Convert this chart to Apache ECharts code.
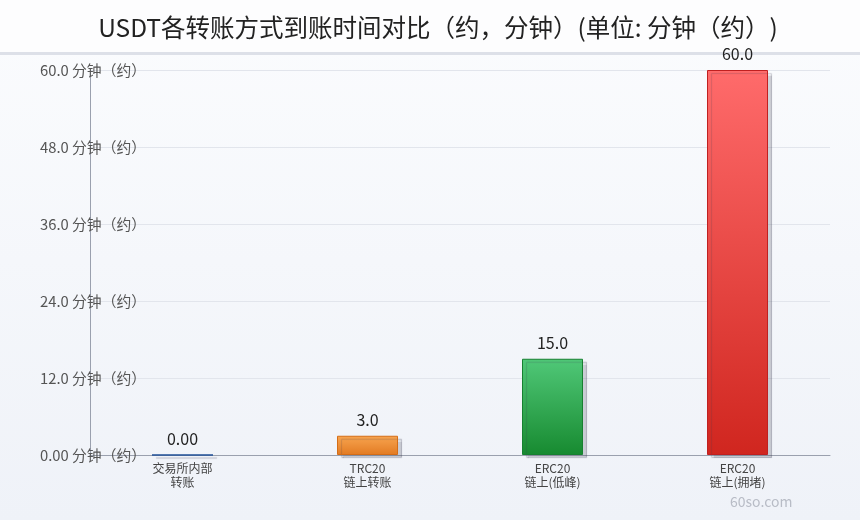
<!DOCTYPE html>
<html>
<head>
<meta charset="utf-8">
<script src="https://cdn.jsdelivr.net/npm/echarts@6/dist/echarts.min.js"></script>
<style>
html,body{margin:0;padding:0;background:#fff;}
#c{width:860px;height:520px;}
</style>
</head>
<body>
<div id="c"></div>
<script>
var titleText = 'USDT各转账方式到账时间对比（约，分钟）(单位: 分钟（约）)';
var categories = ['交易所内部\n转账', 'TRC20\n链上转账', 'ERC20\n链上(低峰)', 'ERC20\n链上(拥堵)'];
var values = [0, 3, 15, 60];
var valueLabels = ['0.00', '3.0', '15.0', '60.0'];
var yTickLabels = {0: '0.00', 12: '12.0', 24: '24.0', 36: '36.0', 48: '48.0', 60: '60.0'};
var unitSuffix = ' 分钟（约）';

var colorStops = [
  ['#3b6cb8', '#1f4f96', '#1f4f96'],
  ['#f8a550', '#e27a22', '#d46d17'],
  ['#50c878', '#178a30', '#178030'],
  ['#ff6b6b', '#d0261f', '#c02020']
];

var font = '"Noto Sans CJK SC", "Noto Sans", sans-serif';
var chart = echarts.init(document.getElementById('c'), null, {renderer: 'canvas'});

var data = values.map(function (v, i) {
  return {
    value: v,
    itemStyle: {
      color: new echarts.graphic.LinearGradient(0, 0, 0, 1, [
        {offset: 0, color: colorStops[i][0]},
        {offset: 1, color: colorStops[i][1]}
      ]),
      borderColor: colorStops[i][2],
      borderWidth: 1
    }
  };
});

chart.setOption({
  backgroundColor: new echarts.graphic.LinearGradient(0, 0, 0, 1, [
    {offset: 0, color: '#fbfcfe'},
    {offset: 1, color: '#eff2f8'}
  ]),
  animation: false,
  graphic: [
    {type: 'rect', left: 0, top: 0, shape: {width: 860, height: 52}, style: {fill: '#fdfdfe'}, z: -1},
    {type: 'rect', left: 0, top: 52, shape: {width: 860, height: 3}, style: {fill: '#dde0e8'}, z: -1},
    {type: 'text', x: 438, y: 28, style: {text: titleText, font: '24.5px ' + font, fill: '#222', align: 'center', verticalAlign: 'middle'}},
    {type: 'text', left: 730, top: 495, style: {text: '60so.com', font: '14px ' + font, fill: '#b8bcc6'}}
  ],
  grid: {left: 90, right: 30, top: 70, bottom: 65},
  xAxis: {
    type: 'category',
    data: categories,
    axisLine: {lineStyle: {color: '#9aa0ae'}},
    axisTick: {show: false},
    axisLabel: {color: '#444', fontSize: 12, lineHeight: 14, margin: 6, fontFamily: font}
  },
  yAxis: {
    type: 'value',
    min: 0, max: 60, interval: 12,
    axisLine: {show: true, lineStyle: {color: '#9aa0ae'}},
    axisTick: {show: false},
    splitLine: {lineStyle: {color: '#e2e5ec'}},
    axisLabel: {
      align: 'left', margin: 50, color: '#555', fontSize: 14.8, fontFamily: font,
      formatter: function (v) { return yTickLabels[v] + unitSuffix; }
    }
  },
  series: [{
    type: 'bar',
    data: data,
    barWidth: 61,
    itemStyle: {shadowColor: 'rgba(60,60,80,0.22)', shadowOffsetX: 4, shadowOffsetY: 3, shadowBlur: 1},
    label: {
      show: true, position: 'top', distance: 8, color: '#222', fontSize: 16, fontFamily: font,
      formatter: function (p) { return valueLabels[p.dataIndex]; }
    }
  }]
});
</script>
</body>
</html>
